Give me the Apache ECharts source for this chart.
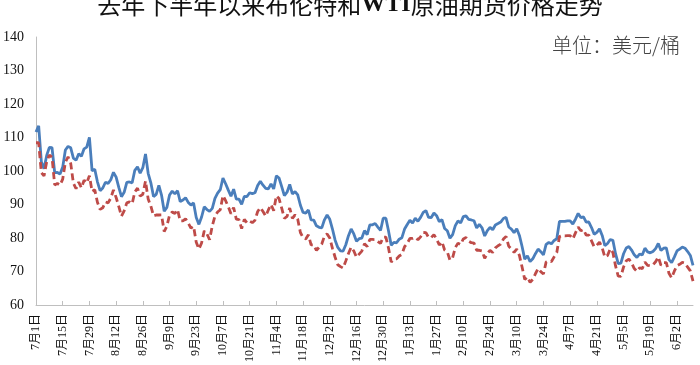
<!DOCTYPE html>
<html>
<head>
<meta charset="utf-8">
<script src="https://cdn.jsdelivr.net/npm/echarts@6/dist/echarts.min.js"></script>
<style>
html,body{margin:0;padding:0;background:#fff;}
#chart{width:700px;height:365px;}
</style>
</head>
<body>
<div id="chart"></div>
<script>
// Title and unit
const titleText = '去年下半年以来布伦特和WTI原油期货价格走势';
const unitText = '单位：美元/桶';
const seriesNames = ['布伦特', 'WTI'];

// Y axis ticks
const yMin = 60, yMax = 140, yStep = 10;

// Categories: trading weekdays 2022-07-01 .. 2023-06-12 (label every 10th)
const firstDay = '2022-07-01';
const lastDay = '2023-06-12';

// Brent (blue, solid)
const brent = [
 111.63,113.50,102.77,100.69,104.65,107.02,106.94,99.49,99.57,99.10,101.16,106.27,107.35,106.92,103.86,103.20,105.15,104.40,106.62,107.14,110.01,
 100.03,100.54,96.78,94.12,94.92,96.65,96.31,97.40,99.60,98.15,95.10,92.34,93.65,96.59,96.72,96.48,100.22,101.22,99.34,100.99,105.09,99.31,96.49,
 92.36,93.02,95.74,92.83,88.00,89.15,92.84,94.00,93.17,94.10,90.84,91.35,92.00,90.62,89.83,90.46,86.15,84.06,86.27,89.32,88.49,87.96,
 88.86,91.80,93.37,94.42,97.92,96.19,94.29,92.45,94.57,91.63,91.62,90.03,92.41,92.38,93.50,93.26,93.52,95.69,96.96,95.77,94.83,
 94.65,96.16,94.67,98.57,97.92,95.36,92.65,93.67,95.99,93.14,93.86,92.86,89.78,87.62,87.45,88.36,85.41,85.34,83.63,83.19,83.03,85.43,
 86.88,85.57,82.68,79.35,77.17,76.15,76.10,77.99,80.68,82.70,81.21,79.04,79.80,79.99,82.20,80.98,83.92,83.92,84.33,83.26,82.26,85.91,
 85.91,82.10,77.84,78.69,78.57,79.65,80.10,82.67,84.03,85.28,84.46,85.92,84.98,86.16,87.63,88.19,86.13,86.12,87.47,86.66,84.90,85.46,
 82.84,82.17,79.94,80.99,83.69,85.09,84.50,86.39,86.61,85.58,85.38,85.14,83.00,84.07,83.05,80.60,82.21,83.16,82.45,83.89,
 84.31,84.75,85.83,86.18,83.29,82.66,81.59,82.78,80.77,77.45,73.69,74.70,72.97,73.79,75.32,76.69,75.91,74.99,78.12,78.65,78.28,79.27,79.77,
 84.93,84.94,84.99,85.12,85.12,84.18,85.61,87.33,86.09,86.31,84.76,84.77,83.12,81.10,81.66,82.73,80.77,77.69,78.37,79.54,
 79.31,75.32,72.33,72.50,75.30,77.01,77.44,76.41,74.98,74.17,75.23,74.91,76.96,75.86,75.58,75.99,76.84,78.36,76.26,76.95,77.07,73.54,72.66,
 74.28,76.13,76.71,77.29,76.95,75.96,74.79,71.84
];

// WTI (red, dashed)
const wti = [
 108.43,108.43,99.50,98.53,102.73,104.79,104.09,95.84,96.30,95.78,97.59,102.60,104.22,102.26,96.35,94.70,96.70,94.98,97.26,96.42,98.62,
 93.89,94.42,90.66,88.54,89.01,90.76,90.50,91.93,94.34,92.09,89.41,86.53,88.11,90.50,90.77,90.23,93.74,94.89,92.52,93.06,97.01,91.64,89.55,
 86.61,86.87,86.87,86.88,81.94,83.54,86.79,87.78,87.31,88.48,85.10,85.11,85.73,84.45,82.94,83.49,78.74,76.71,78.50,82.15,81.23,79.49,
 83.63,86.52,87.76,88.45,92.64,91.13,89.35,87.27,89.11,85.61,85.46,82.82,85.55,84.51,85.05,84.58,85.32,87.91,89.08,87.90,86.53,
 88.37,90.00,88.17,92.61,91.79,88.91,85.83,86.47,88.96,85.87,86.92,85.59,81.64,80.08,79.73,80.95,77.94,77.94,76.28,77.24,78.20,80.55,
 81.22,79.98,76.93,74.25,72.01,71.46,71.02,73.17,75.39,77.28,76.11,74.29,75.19,76.09,78.29,77.49,79.56,79.56,79.53,78.96,78.40,80.26,
 80.26,76.93,72.84,73.67,73.77,74.63,75.12,77.41,78.39,79.86,79.86,80.18,79.48,80.33,81.64,81.62,80.13,80.15,81.01,79.68,77.90,78.87,
 76.41,75.88,73.39,74.11,77.14,78.47,78.06,79.72,80.14,79.06,78.59,78.49,76.34,76.34,76.16,73.95,75.39,76.32,75.68,77.05,
 77.69,78.16,79.68,80.46,77.58,76.66,75.72,76.68,74.80,71.33,67.61,68.35,66.74,67.64,69.33,70.90,69.96,69.26,72.81,73.20,72.97,74.37,75.67,
 80.42,80.71,80.61,80.70,80.70,79.74,81.53,83.26,82.16,82.52,80.83,80.86,79.16,77.37,77.87,78.76,77.07,74.30,74.76,76.78,
 75.66,71.66,68.60,68.56,71.34,73.16,73.71,72.56,70.87,70.04,71.11,70.86,72.83,71.86,71.69,71.99,72.91,74.34,71.83,72.67,72.67,69.46,68.09,
 70.10,71.74,72.15,72.74,72.53,71.29,70.17,67.12
];

// Build weekday category labels
const categories = [];
(function () {
  const d = new Date(firstDay + 'T00:00:00Z');
  const end = new Date(lastDay + 'T00:00:00Z');
  while (d <= end) {
    const wd = d.getUTCDay();
    if (wd !== 0 && wd !== 6) {
      categories.push((d.getUTCMonth() + 1) + '月' + d.getUTCDate() + '日');
    }
    d.setUTCDate(d.getUTCDate() + 1);
  }
})();

const serif = '"Liberation Serif","Noto Sans CJK SC",serif';
const chart = echarts.init(document.getElementById('chart'));
chart.setOption({
  backgroundColor: '#fff',
  animation: false,
  title: {
    text: '去年下半年以来布伦特和{b|WTI}原油期货价格走势',
    left: 'center',
    top: -12,
    textStyle: {
      fontSize: 24,
      fontWeight: 'normal',
      color: '#111',
      fontFamily: '"Noto Sans CJK SC",serif',
      rich: { b: { fontSize: 24, fontWeight: 'bold', fontFamily: '"Liberation Serif",serif', color: '#111' } }
    }
  },
  graphic: [{
    type: 'text',
    right: 20,
    top: 35,
    style: { text: unitText, fontSize: 20, fill: '#444', fontFamily: '"Noto Sans CJK SC",sans-serif', fontWeight: 300 }
  }],
  grid: { left: 32, right: 7, top: 37, bottom: 42, containLabel: false },
  xAxis: {
    type: 'category',
    data: categories,
    boundaryGap: false,
    axisLine: { lineStyle: { color: '#bfbfbf', width: 1 } },
    axisTick: { show: true, inside: true, length: 4, interval: 9, lineStyle: { color: '#bfbfbf' } },
    axisLabel: {
      interval: 9, rotate: 90, fontSize: 12, color: '#111', margin: 9,
      fontFamily: serif
    },
    splitLine: { show: false }
  },
  yAxis: {
    type: 'value',
    min: yMin, max: yMax, interval: yStep,
    axisLine: { show: true, lineStyle: { color: '#bfbfbf', width: 1 } },
    axisTick: { show: false },
    axisLabel: { fontSize: 14, color: '#111', margin: 12, fontFamily: serif },
    splitLine: { show: false }
  },
  series: [
    {
      name: seriesNames[0], type: 'line', data: brent, showSymbol: false, symbol: 'none',
      lineStyle: { color: '#4A7EBB', width: 2.8 }, itemStyle: { color: '#4A7EBB' }
    },
    {
      name: seriesNames[1], type: 'line', data: wti, showSymbol: false, symbol: 'none',
      lineStyle: { color: '#BE4B48', width: 2.8, type: [7, 4] }, itemStyle: { color: '#BE4B48' }
    }
  ]
});
</script>
</body>
</html>
